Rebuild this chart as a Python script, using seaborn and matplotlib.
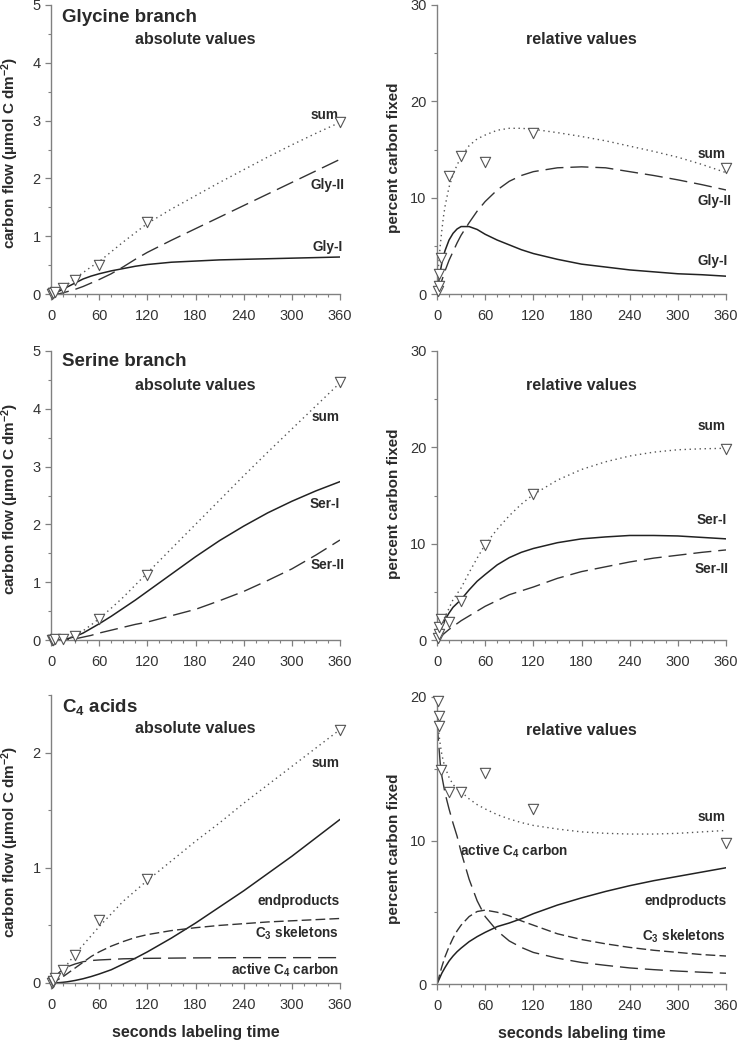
import matplotlib
matplotlib.use("Agg")
import matplotlib.pyplot as plt
import seaborn as sns
from matplotlib.ticker import MultipleLocator

# sampling times (s)
t_obs = [1, 2, 3, 5, 15, 30, 60, 120, 360]
t_fit = [0, 5, 10, 15, 20, 30, 40, 50, 60, 75, 90, 105, 120, 150, 180, 210, 240, 270, 300, 330, 360]
t_fit_r = [0, 2, 4, 6, 8, 10, 15, 20, 25, 30, 40, 50, 60, 75, 90, 105, 120, 150, 180, 210, 240, 270, 300, 330, 360]

# Glycine branch, absolute (umol C dm-2)
gly_sum_obs = [0.0, 0.01, 0.02, 0.03, 0.11, 0.25, 0.51, 1.25, 2.97]
gly1_abs = [0, 0.02, 0.05, 0.08, 0.12, 0.19, 0.26, 0.31, 0.35, 0.40, 0.44, 0.48, 0.51, 0.55, 0.57, 0.59, 0.60, 0.61, 0.62, 0.63, 0.64]
gly2_abs = [0, 0, 0.005, 0.02, 0.04, 0.08, 0.13, 0.19, 0.25, 0.35, 0.47, 0.6, 0.72, 0.93, 1.13, 1.33, 1.53, 1.73, 1.93, 2.13, 2.33]
gly_sum_abs = [0, 0.03, 0.07, 0.11, 0.16, 0.27, 0.37, 0.47, 0.56, 0.73, 0.9, 1.06, 1.22, 1.47, 1.7, 1.93, 2.15, 2.37, 2.58, 2.78, 2.97]

# Glycine branch, relative (% carbon fixed)
gly_sum_rel_obs = [0.3, 0.8, 2.1, 3.7, 12.2, 14.3, 13.7, 16.7, 13.1]
gly1_rel = [0, 1.2, 2.3, 3.2, 3.9, 4.5, 5.6, 6.3, 6.75, 7.0, 7.0, 6.7, 6.2, 5.6, 5.1, 4.6, 4.2, 3.6, 3.1, 2.8, 2.5, 2.3, 2.1, 2.0, 1.85]
gly2_rel = [0, 0.4, 0.9, 1.4, 1.9, 2.4, 3.5, 4.4, 5.3, 6.1, 7.4, 8.6, 9.6, 10.8, 11.7, 12.3, 12.7, 13.1, 13.2, 13.1, 12.7, 12.3, 11.85, 11.35, 10.8]
gly_sum_rel = [0.3, 3.0, 5.0, 6.6, 8.0, 9.1, 11.1, 12.4, 13.4, 14.2, 15.4, 16.1, 16.5, 17.0, 17.2, 17.2, 17.1, 16.75, 16.35, 15.9, 15.35, 14.8, 14.2, 13.45, 12.6]

# Serine branch, absolute
ser_sum_obs = [0.0, 0.0, 0.0, 0.01, 0.01, 0.07, 0.37, 1.13, 4.46]
ser1_abs = [0, 0, 0, 0.005, 0.02, 0.06, 0.12, 0.2, 0.28, 0.41, 0.55, 0.69, 0.84, 1.14, 1.44, 1.72, 1.97, 2.2, 2.4, 2.58, 2.74]
ser2_abs = [0, 0, 0, 0, 0.005, 0.02, 0.05, 0.08, 0.12, 0.17, 0.22, 0.27, 0.31, 0.42, 0.53, 0.68, 0.84, 1.03, 1.23, 1.47, 1.73]
ser_sum_abs = [0, 0, 0, 0.01, 0.02, 0.08, 0.16, 0.26, 0.37, 0.55, 0.74, 0.95, 1.16, 1.58, 2.0, 2.42, 2.84, 3.25, 3.65, 4.05, 4.45]

# Serine branch, relative
ser_sum_rel_obs = [0.2, 0.6, 1.3, 2.2, 1.9, 4.1, 9.9, 15.2, 19.8]
ser1_rel = [0, 0.4, 0.8, 1.3, 1.7, 2.1, 2.8, 3.4, 3.8, 4.2, 5.2, 6.1, 6.8, 7.8, 8.55, 9.1, 9.5, 10.1, 10.5, 10.7, 10.85, 10.85, 10.8, 10.65, 10.5]
ser2_rel = [0, 0.15, 0.3, 0.45, 0.6, 0.75, 1.1, 1.4, 1.7, 2.0, 2.5, 3.0, 3.5, 4.1, 4.7, 5.1, 5.5, 6.4, 7.1, 7.6, 8.1, 8.5, 8.8, 9.1, 9.35]
ser_sum_rel = [0.2, 0.6, 1.1, 1.6, 2.0, 2.4, 3.3, 4.2, 4.8, 5.4, 7.0, 8.5, 9.9, 11.5, 12.9, 14.1, 15.1, 16.6, 17.7, 18.5, 19.1, 19.5, 19.75, 19.85, 19.9]

# C4 acids, absolute
c4_sum_obs = [0.0, 0.01, 0.02, 0.04, 0.11, 0.24, 0.55, 0.9, 2.2]
end_abs = [0, 0.001, 0.003, 0.006, 0.01, 0.022, 0.037, 0.056, 0.078, 0.115, 0.165, 0.215, 0.27, 0.39, 0.52, 0.66, 0.8, 0.95, 1.1, 1.26, 1.42]
c3_abs = [0, 0.015, 0.035, 0.055, 0.08, 0.13, 0.18, 0.23, 0.27, 0.32, 0.36, 0.395, 0.42, 0.455, 0.48, 0.5, 0.515, 0.53, 0.54, 0.55, 0.56]
act_abs = [0, 0.05, 0.09, 0.12, 0.14, 0.165, 0.185, 0.195, 0.2, 0.205, 0.21, 0.212, 0.214, 0.216, 0.218, 0.219, 0.22, 0.22, 0.22, 0.22, 0.22]
c4_sum_abs = [0, 0.04, 0.08, 0.12, 0.16, 0.25, 0.33, 0.41, 0.49, 0.6, 0.71, 0.8, 0.89, 1.06, 1.23, 1.39, 1.56, 1.72, 1.88, 2.04, 2.2]

# C4 acids, relative
c4_sum_rel_obs = [19.7, 18.7, 18.0, 14.9, 13.4, 13.35, 14.7, 12.2, 9.8]
act_rel = [18.2, 16.8, 15.4, 14.5, 13.9, 13.3, 12.2, 11.2, 10.3, 9.2, 7.3, 5.8, 4.7, 3.7, 3.0, 2.55, 2.2, 1.8, 1.5, 1.3, 1.12, 1.0, 0.9, 0.82, 0.75]
c3_rel = [0, 0.4, 0.8, 1.2, 1.55, 1.9, 2.6, 3.2, 3.7, 4.1, 4.7, 5.05, 5.15, 5.0, 4.75, 4.4, 4.1, 3.5, 3.1, 2.8, 2.55, 2.35, 2.2, 2.05, 1.95]
end_rel = [0, 0.25, 0.5, 0.75, 0.95, 1.15, 1.6, 1.95, 2.25, 2.5, 2.95, 3.3, 3.6, 4.0, 4.25, 4.55, 4.9, 5.5, 6.0, 6.45, 6.85, 7.2, 7.5, 7.8, 8.1]
c4_sum_rel = [18.2, 17.6, 16.7, 16.0, 15.5, 15.1, 14.4, 13.9, 13.6, 13.4, 12.9, 12.5, 12.2, 11.8, 11.5, 11.25, 11.05, 10.8, 10.6, 10.5, 10.45, 10.45, 10.5, 10.6, 10.7]

sns.set_theme(style="ticks")
plt.rcParams['font.family'] = ['Liberation Sans', 'DejaVu Sans']
plt.rcParams['mathtext.fontset'] = 'custom'
plt.rcParams['mathtext.rm'] = 'Liberation Sans'
plt.rcParams['mathtext.bf'] = 'Liberation Sans:bold'
plt.rcParams['mathtext.it'] = 'Liberation Sans:italic'

GRAY = '#808080'
TXT = '#2a2a2a'
DOT = dict(color='#555555', linewidth=1.0, linestyle=(0, (1, 2.6)))
SOLID = dict(color='#222222', linewidth=1.1, linestyle='-')
LONG = dict(color='#333333', linewidth=1.0, linestyle=(0, (13, 5)))
SHORT = dict(color='#333333', linewidth=1.0, linestyle=(0, (7, 3)))

fig = plt.figure(figsize=(7.37, 10.4), dpi=100)
W, H = 737.0, 1040.0


def make_ax(x0, top, bottom):
    return fig.add_axes([x0 / W, 1 - bottom / H, 289 / W, (bottom - top) / H])


def style(ax, ymax, ymaj, ymin, right):
    ax.set_xlim(0, 360)
    ax.set_ylim(0, ymax)
    ax.xaxis.set_major_locator(MultipleLocator(60))
    ax.xaxis.set_minor_locator(MultipleLocator(15))
    ax.yaxis.set_major_locator(MultipleLocator(ymaj))
    ax.yaxis.set_minor_locator(MultipleLocator(ymin))
    sns.despine(ax=ax)
    for s in ['left', 'bottom']:
        ax.spines[s].set_color(GRAY)
        ax.spines[s].set_linewidth(1.0)
    ax.tick_params(which='major', length=4.5, width=0.9, color=GRAY,
                   labelcolor='#333333', labelsize=10.5)
    ax.tick_params(which='minor', length=2.5, width=0.8, color=GRAY)
    ax.tick_params(axis='x', pad=6)
    ax.tick_params(axis='y', pad=3)
    if right:
        ax.set_ylabel('percent carbon fixed', fontsize=11, fontweight='bold', color=TXT)
        ax.yaxis.set_label_coords(-0.125, 0.47)
        ax.text(0.5, 0.882, 'relative values', transform=ax.transAxes, ha='center',
                va='center', fontsize=11.5, fontweight='bold', color=TXT)
    else:
        ax.set_ylabel(r'carbon flow (µmol C dm$^\mathbf{-2}$)', fontsize=11,
                      fontweight='bold', color=TXT)
        ax.yaxis.set_label_coords(-0.105, 0.49)
        ax.text(0.5, 0.882, 'absolute values', transform=ax.transAxes, ha='center',
                va='center', fontsize=11.5, fontweight='bold', color=TXT)
    ax.set_xlabel('')


def line(ax, t, y, st):
    sns.lineplot(x=t, y=y, ax=ax, errorbar=None, sort=False, **st)


def pts(ax, y):
    sns.scatterplot(x=t_obs, y=y, ax=ax, marker='v', s=55, color='white',
                    edgecolor='#555555', linewidth=0.8, zorder=5, clip_on=False)


def lab(ax, x, y, s, ha='right'):
    ax.text(x, y, s, ha=ha, va='center', fontsize=9.8, fontweight='bold', color=TXT)


def title(ax, s, y):
    ax.text(0.038, y, s, transform=ax.transAxes, ha='left', va='center',
            fontsize=13.5, fontweight='bold', color=TXT)


# row 1: glycine
ax = make_ax(51, 5, 294)
line(ax, t_fit, gly1_abs, SOLID)
line(ax, t_fit, gly2_abs, LONG)
line(ax, t_fit, gly_sum_abs, DOT)
pts(ax, gly_sum_obs)
style(ax, 5, 1, 0.5, False)
title(ax, 'Glycine branch', 0.958)
lab(ax, 358, 3.1, 'sum')
lab(ax, 366, 1.89, 'Gly-II')
lab(ax, 364, 0.82, 'Gly-I')

ax = make_ax(437, 5, 294)
line(ax, t_fit_r, gly1_rel, SOLID)
line(ax, t_fit_r, gly2_rel, LONG)
line(ax, t_fit_r, gly_sum_rel, DOT)
pts(ax, gly_sum_rel_obs)
style(ax, 30, 10, 5, True)
lab(ax, 360, 14.5, 'sum')
lab(ax, 367, 9.65, 'Gly-II')
lab(ax, 362, 3.4, 'Gly-I')

# row 2: serine
ax = make_ax(51, 351, 640)
line(ax, t_fit, ser1_abs, SOLID)
line(ax, t_fit, ser2_abs, LONG)
line(ax, t_fit, ser_sum_abs, DOT)
pts(ax, ser_sum_obs)
style(ax, 5, 1, 0.5, False)
title(ax, 'Serine branch', 0.962)
lab(ax, 359, 3.85, 'sum')
lab(ax, 360, 2.35, 'Ser-I')
lab(ax, 366, 1.29, 'Ser-II')

ax = make_ax(437, 351, 640)
line(ax, t_fit_r, ser1_rel, SOLID)
line(ax, t_fit_r, ser2_rel, LONG)
line(ax, t_fit_r, ser_sum_rel, DOT)
pts(ax, ser_sum_rel_obs)
style(ax, 30, 10, 5, True)
lab(ax, 360, 22.2, 'sum')
lab(ax, 361, 12.45, 'Ser-I')
lab(ax, 363, 7.4, 'Ser-II')

# row 3: C4 acids
ax = make_ax(51, 695, 983)
line(ax, t_fit, end_abs, SOLID)
line(ax, t_fit, c3_abs, SHORT)
line(ax, t_fit, act_abs, LONG)
line(ax, t_fit, c4_sum_abs, DOT)
pts(ax, c4_sum_obs)
style(ax, 2.5, 1, 0.5, False)
title(ax, r'C$_\mathbf{4}$ acids', 0.958)
lab(ax, 359, 1.91, 'sum')
lab(ax, 359, 0.71, 'endproducts')
lab(ax, 359, 0.43, r'C$_\mathbf{3}$ skeletons')
lab(ax, 359, 0.11, r'active C$_\mathbf{4}$ carbon')
ax.set_xlabel('seconds labeling time', fontsize=11.5, fontweight='bold', color=TXT)
ax.xaxis.set_label_coords(0.5, -0.145)

ax = make_ax(437, 697, 984)
line(ax, t_fit_r, end_rel, SOLID)
line(ax, t_fit_r, c3_rel, SHORT)
line(ax, t_fit_r, act_rel, LONG)
line(ax, t_fit_r, c4_sum_rel, DOT)
pts(ax, c4_sum_rel_obs)
style(ax, 20, 10, 5, True)
lab(ax, 360, 11.66, 'sum')
lab(ax, 28.6, 9.22, r'active C$_\mathbf{4}$ carbon', ha='left')
lab(ax, 361, 5.8, 'endproducts')
lab(ax, 360, 3.3, r'C$_\mathbf{3}$ skeletons')
ax.set_xlabel('seconds labeling time', fontsize=11.5, fontweight='bold', color=TXT)
ax.xaxis.set_label_coords(0.5, -0.145)

fig.savefig('out.png', dpi=100)
plt.close('all')
